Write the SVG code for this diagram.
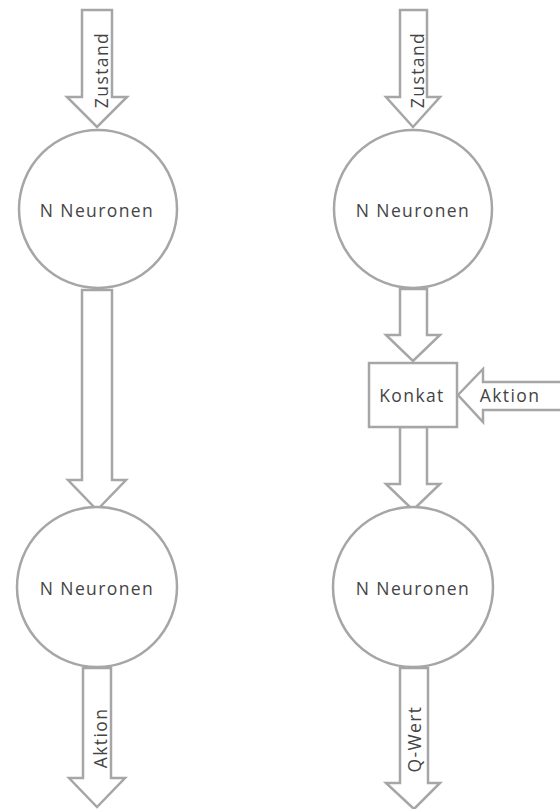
<svg xmlns="http://www.w3.org/2000/svg" width="560" height="809" viewBox="0 0 560 809">
<style>
.s{fill:#fff;stroke:#a6a6a6;stroke-width:2.5;stroke-linejoin:miter}
.t{font-family:"Open Sans","Liberation Sans",sans-serif;font-size:17.5px;fill:#444;letter-spacing:1.4px;text-anchor:middle}
</style>
<rect width="560" height="809" fill="#fff"/>
<g id="connectors">
<path class="s" d="M82,10 H112 V97 H127 L97,127 L67,97 H82 Z"/>
<text class="t" transform="translate(108,70) rotate(-90)">Zustand</text>
<path class="s" d="M82,290 H112 V480 H126 L97,510 L68,480 H82 Z"/>
<path class="s" d="M83,668 H111 V778 H125 L97,807 L69,778 H83 Z"/>
<text class="t" transform="translate(107,738) rotate(-90)">Aktion</text>
<path class="s" d="M400,10 H427 V97 H440 L413,127 L386,97 H400 Z"/>
<text class="t" transform="translate(424,70) rotate(-90)">Zustand</text>
<path class="s" d="M400,289 H427 V335 H440 L413,361 L386,335 H400 Z"/>
<path class="s" d="M400,427 H427 V484 H440 L413,510 L386,484 H400 Z"/>
<path class="s" d="M400,668 H428 V783 H440 L414,809 L386,783 H400 Z"/>
<text class="t" transform="translate(421,739) rotate(-90)">Q-Wert</text>
<path class="s" d="M565,382 H483 V369 L458,395 L483,422 V410 H565 Z"/>
<text class="t" x="510" y="402">Aktion</text>
</g>
<g id="n1"><circle class="s" cx="98" cy="209" r="79"/><text class="t" x="97" y="217">N Neuronen</text></g>
<g id="n2"><circle class="s" cx="97" cy="587" r="80"/><text class="t" x="97" y="595">N Neuronen</text></g>
<g id="n3"><circle class="s" cx="413" cy="209" r="79"/><text class="t" x="413" y="217">N Neuronen</text></g>
<g id="konkat"><rect class="s" x="369" y="363" width="88" height="64"/><text class="t" x="412" y="402">Konkat</text></g>
<g id="n4"><circle class="s" cx="413" cy="587" r="80"/><text class="t" x="413" y="595">N Neuronen</text></g>
</svg>
